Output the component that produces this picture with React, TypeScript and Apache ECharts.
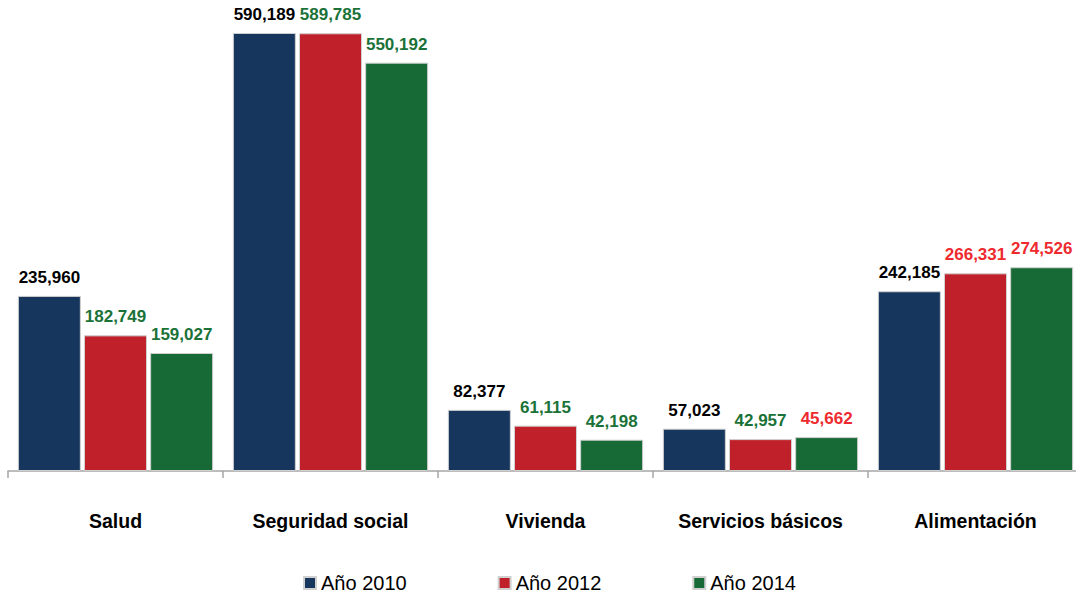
import React, { useEffect, useRef } from "react";
import * as echarts from "echarts";

const categories = ["Salud", "Seguridad social", "Vivienda", "Servicios básicos", "Alimentación"];
const seriesNames = ["Año 2010", "Año 2012", "Año 2014"];
const values2010 = [235960, 590189, 82377, 57023, 242185];
const values2012 = [182749, 589785, 61115, 42957, 266331];
const values2014 = [159027, 550192, 42198, 45662, 274526];
// label colour: "k" black, "g" green, "r" red
const labelTone2010 = ["k", "k", "k", "k", "k"];
const labelTone2012 = ["g", "g", "g", "g", "r"];
const labelTone2014 = ["g", "g", "g", "r", "r"];

const barColors = ["#17365d", "#c0202a", "#176a36"];
const toneColors: Record<string, string> = { k: "#000000", g: "#1b7238", r: "#ee2a2f" };

export default function App() {
  const ref = useRef<HTMLDivElement>(null);
  useEffect(() => {
    if (!ref.current) return;
    const chart = echarts.init(ref.current, undefined, { renderer: "svg" });
    const all = [values2010, values2012, values2014];
    const tones = [labelTone2010, labelTone2012, labelTone2014];
    chart.setOption({
      animation: false,
      grid: { left: 8, right: 0, top: 25.7, bottom: 125, containLabel: false, outerBoundsMode: "none" },
      legend: {
        left: 298,
        top: 568,
        itemWidth: 12,
        itemHeight: 12,
        itemGap: 91,
        icon: "rect",
        textStyle: { fontFamily: "Liberation Sans, Arial, sans-serif", fontSize: 20, color: "#000" },
        data: seriesNames,
      },
      xAxis: {
        type: "category",
        data: categories,
        axisLine: { lineStyle: { color: "#a6a6a6", width: 1.5 } },
        axisTick: { show: true, length: 7, lineStyle: { color: "#a6a6a6", width: 1.5 } },
        axisLabel: {
          margin: 40,
          fontFamily: "Liberation Sans, Arial, sans-serif",
          fontSize: 19.5,
          fontWeight: "bold",
          color: "#000",
        },
      },
      yAxis: { type: "value", min: 0, max: 600000, show: false, splitLine: { show: false } },
      series: all.map((vals, si) => ({
        name: seriesNames[si],
        type: "bar",
        barWidth: 63,
        barGap: "5%",
        itemStyle: { color: barColors[si], borderColor: "#d0d0d0", borderWidth: 1 },
        label: {
          show: true,
          position: "top",
          distance: 10,
          fontFamily: "Liberation Sans, Arial, sans-serif",
          fontSize: 17,
          fontWeight: "bold",
          formatter: (p: any) => Number(p.value).toLocaleString("en-US"),
        },
        data: vals.map((v, i) => ({ value: v, label: { color: toneColors[tones[si][i]] } })),
      })),
    });
    return () => chart.dispose();
  }, []);
  return (
    <div style={{ position: "fixed", left: 0, top: 0, width: 1076, height: 596, overflow: "hidden", background: "#fff" }}>
      <div ref={ref} style={{ width: 1083, height: 596 }} />
    </div>
  );
}
